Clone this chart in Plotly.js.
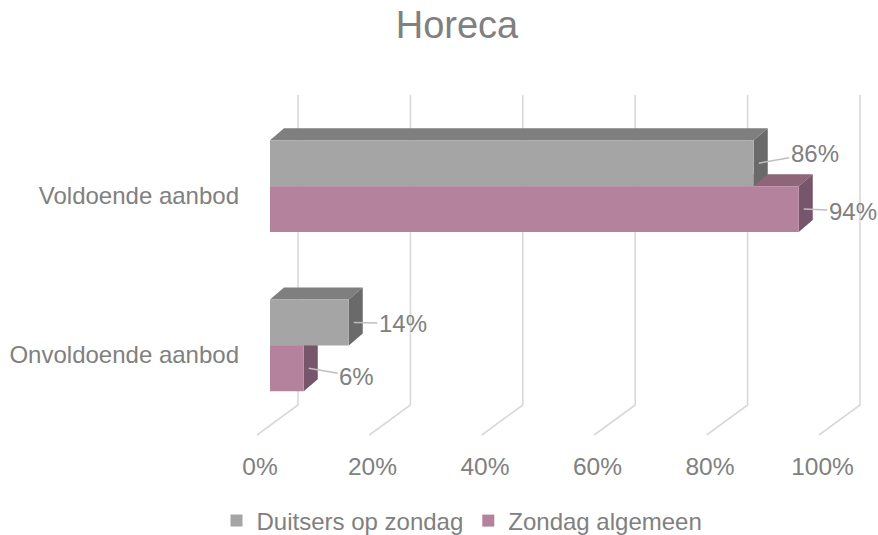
<!DOCTYPE html>
<html>
<head>
<meta charset="utf-8">
<script src="https://cdn.plot.ly/plotly-3.0.1.min.js"></script>
<style>html,body{margin:0;padding:0;background:#fff;}#chart{width:878px;height:535px;}</style>
</head>
<body>
<div id="chart"></div>
<script>
// ---- data ----
const categories = ['Voldoende aanbod', 'Onvoldoende aanbod'];
const seriesNames = ['Duitsers op zondag', 'Zondag algemeen'];
const duitsersOpZondag = [0.86, 0.14];
const zondagAlgemeen = [0.94, 0.06];
const tickValues = [0, 0.2, 0.4, 0.6, 0.8, 1];
const tickLabels = ['0%', '20%', '40%', '60%', '80%', '100%'];
const chartTitle = 'Horeca';

// ---- style ----
const FONT = 'Liberation Sans, Arial, sans-serif';
const TXT = '#808080';
const GRID = '#d9d9d9';
const colors = {
  grayFront: '#a5a5a5', grayTop: '#7f7f7f', graySide: '#6a6a6a',
  pinkFront: '#b5829e', pinkTop: '#8f6579', pinkSide: '#77556a'
};
const BARGAP = 0.4232;
const barH = (1 - BARGAP) / 2;       // thickness of one bar in category units
const DEPTH_X = 0.0249;              // bar 3D depth, in x units
const DEPTH_Y = 0.0752;              // bar 3D depth, in category units
const FLOOR_X = 0.073;               // floor line depth, in wall x units
const FLOOR_Y = 0.0968;              // floor line depth, in wall y units
// label offsets (pixels) for [gray, pink] per category
const labelOffsets = [
  [{ax: 56, ay: -10}, {ax: 49, ay: 2}],
  [{ax: 49, ay: 1}, {ax: 48, ay: 8}]
];

const yPos = categories.map((c, i) => i);

// back wall + floor grid lines (wall subplot)
const gridX = [], gridY = [];
tickValues.forEach(t => {
  gridX.push(t, t, t - FLOOR_X, null);
  gridY.push(1, 0, -FLOOR_Y, null);
});

const traces = [
  {type: 'scatter', x: gridX, y: gridY, xaxis: 'x', yaxis: 'y', mode: 'lines',
   line: {color: GRID, width: 1.6}, hoverinfo: 'skip', showlegend: false},
  {type: 'bar', orientation: 'h', name: seriesNames[0], x: duitsersOpZondag, y: yPos,
   xaxis: 'x2', yaxis: 'y2', marker: {color: colors.grayFront}, hoverinfo: 'none'},
  {type: 'bar', orientation: 'h', name: seriesNames[1], x: zondagAlgemeen, y: yPos,
   xaxis: 'x2', yaxis: 'y2', marker: {color: colors.pinkFront}, hoverinfo: 'none'}
];

// 3D faces (top + side) built from the data
function faces(v, yTop, yBot, topCol, sideCol) {
  const top = `M0,${yTop} L${v},${yTop} L${v + DEPTH_X},${yTop - DEPTH_Y} L${DEPTH_X},${yTop - DEPTH_Y} Z`;
  const side = `M${v},${yTop} L${v + DEPTH_X},${yTop - DEPTH_Y} L${v + DEPTH_X},${yBot - DEPTH_Y} L${v},${yBot} Z`;
  return [
    {type: 'path', xref: 'x2', yref: 'y2', layer: 'below', path: top, fillcolor: topCol, line: {width: 0}},
    {type: 'path', xref: 'x2', yref: 'y2', layer: 'below', path: side, fillcolor: sideCol, line: {width: 0}}
  ];
}
let shapes = [];
yPos.forEach((y, i) => {
  shapes = shapes.concat(faces(zondagAlgemeen[i], y, y + barH, colors.pinkTop, colors.pinkSide));
});
yPos.forEach((y, i) => {
  shapes = shapes.concat(faces(duitsersOpZondag[i], y - barH, y, colors.grayTop, colors.graySide));
});

// data labels
const annotations = [];
yPos.forEach((y, i) => {
  [[duitsersOpZondag[i], y - barH / 2, labelOffsets[i][0]],
   [zondagAlgemeen[i], y + barH / 2, labelOffsets[i][1]]].forEach(([v, yy, off]) => {
    annotations.push({
      xref: 'x2', yref: 'y2', x: v, y: yy, xshift: 5,
      text: Math.round(v * 100) + '%', showarrow: true, arrowhead: 0, arrowwidth: 1.5,
      arrowcolor: '#bfbfbf', ax: off.ax, ay: off.ay, standoff: 0,
      font: {family: FONT, size: 24, color: TXT}
    });
  });
});

const layout = {
  width: 878, height: 535,
  margin: {l: 250, r: 8, t: 95, b: 95},
  paper_bgcolor: '#ffffff', plot_bgcolor: 'rgba(0,0,0,0)',
  title: {text: chartTitle, font: {family: FONT, size: 38, color: TXT},
          xref: 'container', x: 457 / 878, xanchor: 'center', yref: 'container', y: 1 - 25 / 535, yanchor: 'middle'},
  barmode: 'group', bargap: BARGAP, bargroupgap: 0,
  showlegend: true,
  legend: {orientation: 'h', xref: 'container', yref: 'container', x: 462 / 878, xanchor: 'center',
           y: 1 - 521 / 535, yanchor: 'middle', font: {family: FONT, size: 24, color: TXT}},
  // wall axes (no labels): 0 -> wall left, 1 -> wall right
  xaxis: {domain: [0, 1], range: [-48 / 562, 572 / 562], showticklabels: false,
          showgrid: false, zeroline: false, showline: false, anchor: 'y', fixedrange: true},
  yaxis: {domain: [0, 1], range: [-35 / 310, 1], showgrid: false, zeroline: false, showticklabels: false,
          showline: false, anchor: 'x', fixedrange: true},
  // bar axes
  xaxis2: {domain: [0, 1], range: [-20 / 562.5, 600 / 562.5], tickvals: tickValues, ticktext: tickLabels,
           showgrid: false, zeroline: false, showline: false, anchor: 'y2', ticks: '',
           ticklabelshift: -10, ticklabelstandoff: 24,
           tickfont: {family: FONT, size: 24.5, color: TXT}, fixedrange: true},
  yaxis2: {domain: [15 / 345, 333.5 / 345], range: [1.5, -0.5], tickvals: yPos, ticktext: categories,
           showgrid: false, zeroline: false, showline: false, anchor: 'x2', ticks: '',
           ticklabelshift: -9, ticklabelstandoff: 10,
           tickfont: {family: FONT, size: 24, color: TXT}, fixedrange: true},
  shapes: shapes,
  annotations: annotations
};

Plotly.newPlot('chart', traces, layout, {displayModeBar: false, staticPlot: true});
</script>
</body>
</html>
